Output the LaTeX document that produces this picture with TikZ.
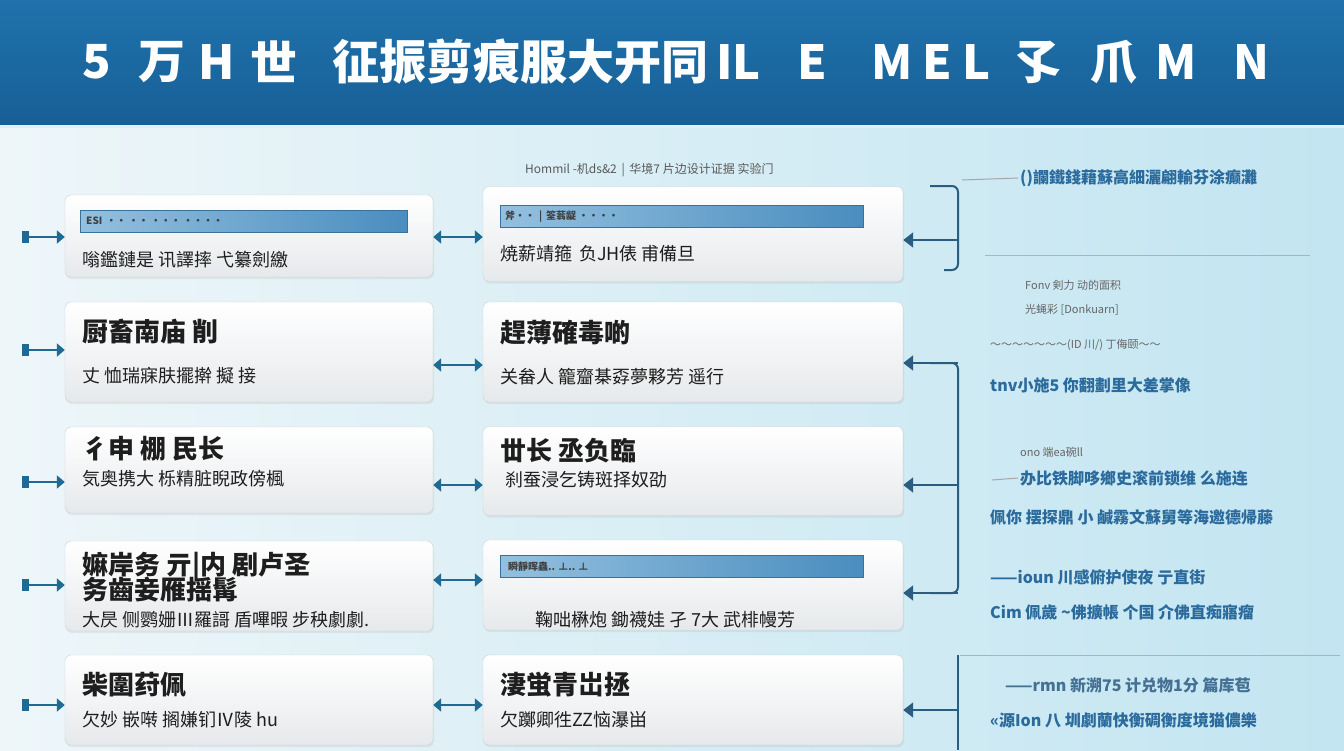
\documentclass[tikz,border=0pt]{standalone}
\usepackage{fontspec}
\setmainfont{Noto Sans CJK SC}
\usetikzlibrary{positioning,arrows.meta,shadows}
\definecolor{bgleft}{HTML}{EEF6F9}
\definecolor{bgright}{HTML}{C2E5F1}
\definecolor{bandtop}{HTML}{2072AC}
\definecolor{bandbot}{HTML}{175F96}
\definecolor{boxline}{HTML}{CBD2D6}
\definecolor{boxlow}{HTML}{E6E9EB}
\definecolor{barlight}{HTML}{93C0DF}
\definecolor{bardark}{HTML}{4A8DBF}
\definecolor{linkblue}{HTML}{1F6A92}
\definecolor{brkblue}{HTML}{2B5D80}
\definecolor{ink}{HTML}{1E1E1E}
\definecolor{rblue}{HTML}{2A6A9C}

\begin{document}
\begin{tikzpicture}[x=1pt, y=-1pt,
    box/.style={draw=boxline, rounded corners=6pt, inner sep=0pt, top color=white, bottom color=boxlow,
      drop shadow={opacity=0.12, shadow xshift=1pt, shadow yshift=-2pt}},
    bar/.style={draw=bardark!80!black, left color=barlight, right color=bardark, inner sep=0pt, minimum height=22pt},
    bartxt/.style={anchor=west, inner sep=0pt, font=\fontsize{10}{11}\bfseries\selectfont, text=ink!85},
    ttl/.style={anchor=west, inner sep=0pt, font=\fontsize{26}{28}\bfseries\selectfont, text=ink},
    txt/.style={anchor=west, inner sep=0pt, font=\fontsize{18}{20}\selectfont, text=ink},
    head/.style={anchor=west, inner sep=0pt, text=white, font=\fontsize{47}{50}\bfseries\selectfont},
    link/.style={draw=linkblue, line width=2.2pt},
    brk/.style={draw=brkblue, line width=2pt, rounded corners=6pt},
    rtxt/.style={anchor=west, inner sep=0pt, font=\fontsize{16}{18}\bfseries\selectfont, text=rblue},
    note/.style={anchor=west, inner sep=0pt, font=\fontsize{11}{13}\selectfont, text=gray!80!black}]

    \useasboundingbox (0,0) rectangle (1344,750);
    \fill[left color=bgleft, right color=bgright] (0,0) rectangle (1344,750);
    \fill[top color=bandtop, bottom color=bandbot] (0,0) rectangle (1344,125);
    \draw[cyan!15, line width=3pt] (0,126) -- (1344,126);

    \foreach \x/\t in {82/5, 138/万, 198/H, 250/世, 332/征振剪痕服大开同, 716/IL, 797/E,
                       871/M, 922/E, 962/L, 1013/孓, 1090/爪, 1155/M, 1233/N}
      \node[head] (t\x) at (\x,62) {\t};
    \node[anchor=west, inner sep=0pt, text=gray!70!black, font=\fontsize{12}{14}\selectfont] (sub) at (525,170)
      {Hommil -机ds\&2 \,|\, 华境7 片边设计证据 实验门};

    % rows
    \coordinate (r1) at (0,237);
    \coordinate (r2) at (0,365);
    \coordinate (r3) at (0,485);
    \coordinate (r4) at (0,580);
    \coordinate (r5) at (0,705);
    \coordinate (s1) at (22,237);
    \coordinate (s2) at (22,350);
    \coordinate (s3) at (22,482);
    \coordinate (s4) at (22,585);
    \coordinate (s5) at (22,705);
    \coordinate (q1) at (958,240);
    \coordinate (q2) at (958,363);
    \coordinate (q3) at (958,485);
    \coordinate (q4) at (958,593);
    \coordinate (q5) at (958,710);

    \draw[brk] (930,186) -- (958,186) -- (958,270) -- (944,270);
    \draw[brk] (930,363) -- (958,363) -- (958,593) -- (930,593);
    \draw[brk] (958,655) -- (958,750);

    % boxes
    \node[box, minimum width=368pt, minimum height=82pt]  (L1) at (249,236) {};
    \node[box, minimum width=368pt, minimum height=100pt] (L2) at (249,352) {};
    \node[box, minimum width=368pt, minimum height=86pt]  (L3) at (249,470) {};
    \node[box, minimum width=368pt, minimum height=90pt]  (L4) at (249,586) {};
    \node[box, minimum width=368pt, minimum height=90pt]  (L5) at (249,700) {};
    \node[box, minimum width=420pt, minimum height=95pt]  (M1) at (693,234) {};
    \node[box, minimum width=420pt, minimum height=100pt] (M2) at (693,352) {};
    \node[box, minimum width=420pt, minimum height=89pt]  (M3) at (693,471) {};
    \node[box, minimum width=420pt, minimum height=90pt]  (M4) at (693,585) {};
    \node[box, minimum width=420pt, minimum height=90pt]  (M5) at (693,700) {};

    \foreach \i in {1,...,5} {
      \draw[link, {Square[length=7pt,width=12pt]}-{Triangle[length=8pt,width=13pt]}] (s\i) -- (s\i -| L\i.west);
      \draw[link, {Triangle[length=8pt,width=13pt]}-{Triangle[length=8pt,width=13pt]}] (L\i.east |- r\i) -- (M\i.west |- r\i);
      \draw[link, draw=brkblue, line width=2pt, -{Triangle[length=10pt,width=15pt]}] (q\i) -- (q\i -| M\i.east);
    }

    % left column
    \node[bar, minimum width=327pt] (L1b) at (243.5,221) {};
    \node[bartxt] (L1bt) at (86,221) {ESI \,·· ·· ··· ····};
    \node[txt] (L1t) at (82,260) {嗡鑑鏈是 讯譯摔 弋纂劍繳};
    \node[ttl] (L2h) at (82,332) {厨畜南庙 削};
    \node[txt] (L2t) at (82,376) {丈 恤瑞寐肤擺擀 擬 接};
    \node[ttl] (L3h) at (82,449) {彳申 棚 民长};
    \node[txt] (L3t) at (82,479) {気奥携大 栎精脏睨政傍楓};
    \node[ttl] (L4h) at (82,567) {嫲岸务 亓|内 剧卢圣};
    \node[ttl] (L4g) at (82,590) {务齒妾雁揺髯};
    \node[txt] (L4t) at (82,620) {大昃 侧鹦姗Ⅲ羅謌 盾嗶暇 步秧劇劇.};
    \node[ttl] (L5h) at (82,685) {柴圍荮佩};
    \node[txt] (L5t) at (82,720) {欠妙 嵌啭 搁嫌钔Ⅳ陵 hu};

    % middle column
    \node[bar, minimum width=363pt] (M1b) at (681.5,216.5) {};
    \node[bartxt] (M1bt) at (505,216.5) {斧·· \,|\, 筌蓊龊 ····};
    \node[txt] (M1t) at (500,254) {焼薪靖箍\, 负JH俵 甫備旦};
    \node[ttl] (M2h) at (500,333) {趕薄確毒啲};
    \node[txt] (M2t) at (500,377) {关畚人 籠齏棊孬夢夥芳 遥行};
    \node[ttl] (M3h) at (500,451) {丗长 丞负臨};
    \node[txt] (M3t) at (505,480) {刹蚕浸乞铸斑择奴劭};
    \node[bar, minimum width=363pt] (M4b) at (681.5,566.5) {};
    \node[bartxt] (M4bt) at (508,566.5) {瞬靜晖蟲.. ⊥.. ⊥};
    \node[txt] (M4t) at (535,620) {鞠咄楙炮 鋤襪娃 孑 7大 武棑幔芳};
    \node[ttl] (M5h) at (500,685) {淒蛍青岀拯};
    \node[txt] (M5t) at (500,720) {欠躑卿徃ZZ恼瀑畄};

    % right column
    \draw[gray!70, line width=1pt] (962,180) -- (1018,178);
    \node[rtxt] (R1) at (1020,178) {()讕鐵錢藉蘇高細灑翩輸芬涂癫灘};
    \draw[gray!60, line width=1pt] (985,255) -- (1310,255);
    \node[note] (R2) at (1025,285) {Fonv 剣力 动的面积};
    \node[note] (R3) at (1025,310) {光蝇彩 [Donkuarn]};
    \node[note] (R4) at (990,345) {～～～～～～～(ID 川/) 丁侮颐～～};
    \node[rtxt] (R5) at (990,385) {tnv小施5 你翻劃里大差掌像};
    \node[note] (R6) at (1020,452) {ono 端ea碗ll};
    \draw[gray!70, line width=1pt] (992,480) -- (1018,478);
    \node[rtxt] (R7) at (1020,478) {办比铁脚哆鄉史滚前锁维 么施连};
    \node[rtxt] (R8) at (990,517) {佩你 摆探鼎 小 鹹霧文蘇舅等海邀德帰藤};
    \node[rtxt] (R9) at (990,577) {——ioun 川感俯护使夜 亍直街};
    \node[rtxt] (R10) at (990,612) {Cim 佩歲 \textasciitilde 佛擴帳 个国 介佛直痴寤瘤};
    \draw[gray!60, line width=1pt] (960,655) -- (1340,655);
    \node[rtxt, text=rblue!70!gray] (R11) at (1005,685) {——rmn 新溯75 计兑物1分 篇库苞};
    \node[rtxt] (R12) at (990,720) {«源Ion 八 圳劇蘭快衡碉衡度境猫儂樂};
  \end{tikzpicture}
\end{document}
